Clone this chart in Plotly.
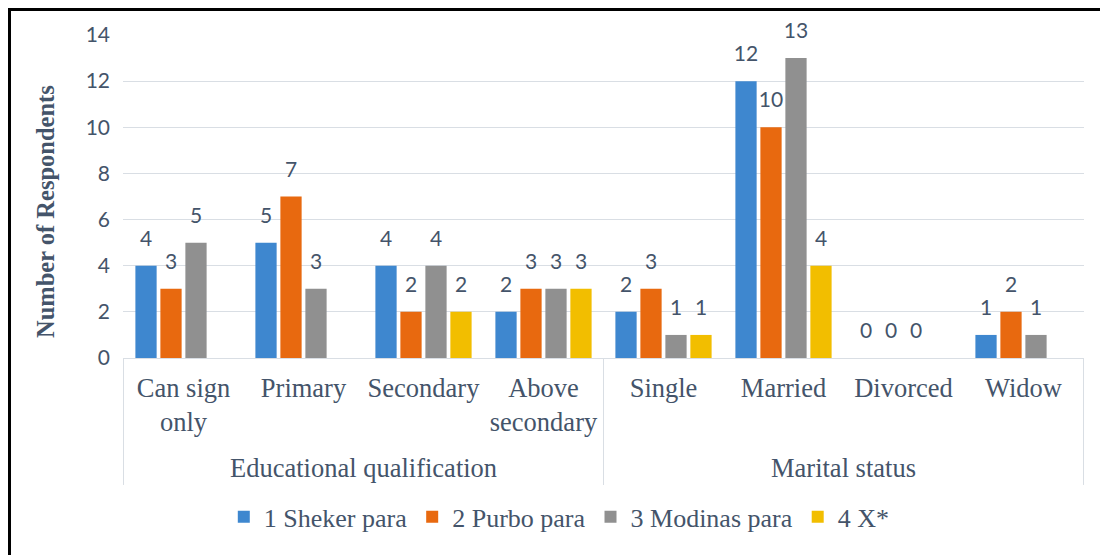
import plotly.graph_objects as go

groups = ["Educational qualification"] * 4 + ["Marital status"] * 4
categories = ["Can sign<br>only", "Primary", "Secondary", "Above<br>secondary",
              "Single", "Married", "Divorced", "Widow"]

series_names = ["1 Sheker para", "2 Purbo para", "3 Modinas para", "4 X*"]
sheker = [4, 5, 4, 2, 2, 12, 0, 1]
purbo = [3, 7, 2, 3, 3, 10, 0, 2]
modinas = [5, 3, 4, 3, 1, 13, 0, 1]
x_star = [None, None, 2, 3, 1, 4, None, None]

colors = ["#3E87CF", "#E8690F", "#909090", "#F2BE00"]
text_color = "#44546A"
line_color = "#D9DEE4"
serif = "Liberation Serif, Times New Roman, serif"
sans = "Lato, Open Sans, sans-serif"

fig = go.Figure()
for i, (name, values, color) in enumerate(zip(series_names, [sheker, purbo, modinas, x_star], colors)):
    fig.add_trace(
        go.Bar(
            x=categories,
            y=values,
            name=name,
            offsetgroup=str(i),
            marker={"color": color, "line": {"width": 0}},
        )
    )
# data labels sit a bit higher above the bars than plotly's own bar text does
for i, (name, values) in enumerate(zip(series_names, [sheker, purbo, modinas, x_star])):
    fig.add_trace(
        go.Scatter(
            x=categories,
            y=values,
            offsetgroup=str(i),
            mode="markers+text",
            text=values,
            textposition="top center",
            marker={"size": 22, "opacity": 0},
            textfont={"family": sans, "size": 21, "color": text_color},
            cliponaxis=False,
            showlegend=False,
            hoverinfo="skip",
        )
    )

# group titles and the divider lines of the two-level axis
group_annotations = []
dividers = []
for g in dict.fromkeys(groups):
    idx = [k for k, name in enumerate(groups) if name == g]
    group_annotations.append(
        {
            "text": g,
            "xref": "x",
            "yref": "paper",
            "x": sum(idx) / len(idx),
            "y": -0.3406,
            "xanchor": "center",
            "yanchor": "middle",
            "showarrow": False,
            "font": {"family": serif, "size": 26.5, "color": text_color},
        }
    )
    for edge in (idx[0] - 0.5, idx[-1] + 0.5):
        dividers.append(
            {
                "type": "line",
                "xref": "x",
                "yref": "paper",
                "x0": edge,
                "x1": edge,
                "y0": 0,
                "y1": -0.393,
                "line": {"color": line_color, "width": 1},
            }
        )

# the page body adds an 8px offset, so margins are 8px smaller than the reference
fig.update_layout(
    width=1108,
    height=555,
    barmode="group",
    scattermode="group",
    bargap=0.167,
    bargroupgap=0.15,
    plot_bgcolor="white",
    paper_bgcolor="white",
    margin={"l": 115, "r": 32, "t": 27, "b": 205},
    showlegend=True,
    legend={
        "orientation": "h",
        "x": 0.454,
        "xanchor": "center",
        "y": -0.492,
        "yanchor": "middle",
        "font": {"family": serif, "size": 26, "color": text_color},
        "traceorder": "normal",
        "bgcolor": "rgba(0,0,0,0)",
    },
    yaxis={
        "range": [0, 14],
        "dtick": 2,
        "automargin": False,
        "showgrid": True,
        "gridcolor": line_color,
        "gridwidth": 1,
        "zeroline": False,
        "tickfont": {"family": sans, "size": 21, "color": text_color},
        "ticks": "",
        "ticklabelstandoff": 12,
    },
    xaxis={
        "type": "category",
        "automargin": False,
        "tickangle": 0,
        "showline": True,
        "linecolor": line_color,
        "linewidth": 1,
        "tickfont": {"family": serif, "size": 26.5, "color": text_color},
        "ticks": "",
        "ticklabelstandoff": 6,
    },
    annotations=[
        {
            "text": "<b>Number of Respondents</b>",
            "textangle": -90,
            "xref": "paper",
            "yref": "paper",
            "x": -0.0812,
            "y": 0.455,
            "xanchor": "center",
            "yanchor": "middle",
            "showarrow": False,
            "font": {"family": serif, "size": 24.5, "color": text_color},
        }
    ] + group_annotations,
    shapes=dividers + [
        {
            "type": "rect",
            "xref": "paper",
            "yref": "paper",
            "x0": -0.1181,
            "x1": 1.08,
            "y0": -0.7,
            "y1": 1.079,
            "line": {"color": "black", "width": 3},
            "fillcolor": "rgba(0,0,0,0)",
            "layer": "above",
        }
    ],
)

fig.write_html("out.html")
